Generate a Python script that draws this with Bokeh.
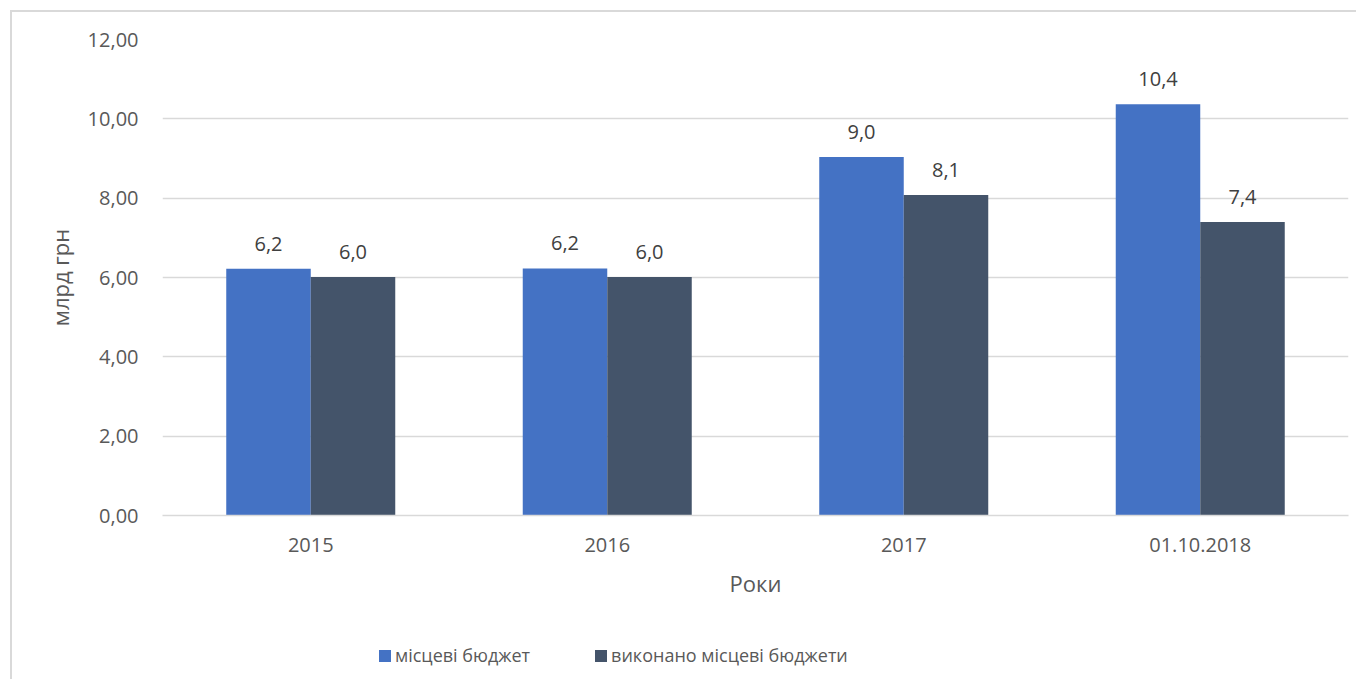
from bokeh.plotting import figure
from bokeh.layouts import column
from bokeh.models import FactorRange, Range1d, FixedTicker, Legend, LegendItem, ColumnDataSource
from bokeh.transform import dodge
from bokeh.core.properties import value
from bokeh.embed import file_html
from bokeh.resources import INLINE

# ---- data ----
categories = ["2015", "2016", "2017", "01.10.2018"]
local_budget = [6.22, 6.23, 9.04, 10.37]
executed_budget = [6.01, 6.01, 8.08, 7.40]
series_names = ["місцеві бюджет", "виконано місцеві бюджети"]
y_ticks = [0, 2, 4, 6, 8, 10, 12]
y_tick_labels = ["0,00", "2,00", "4,00", "6,00", "8,00", "10,00", "12,00"]
x_title = "Роки"
y_title = "млрд грн"

BLUE = "#4472C4"
DARK = "#44546A"
GRID = "#d9d9d9"
TXT = "#595959"
LBL = "#404040"
FONT = "Open Sans"

def fmt(v):
    return f"{v:.1f}".replace(".", ",")

src = ColumnDataSource(dict(
    cat=categories,
    a=local_budget,
    b=executed_budget,
    a_lbl=[fmt(v) for v in local_budget],
    b_lbl=[fmt(v) for v in executed_budget],
))

W = 1344
H1 = 613
H2 = 54
p = figure(
    x_range=FactorRange(*categories),
    y_range=Range1d(0, 12),
    width=W, height=H1,
    output_backend="svg", toolbar_location=None,
    min_border_left=150, min_border_right=8,
    min_border_top=27, min_border_bottom=110,
)
p.outline_line_color = None
p.background_fill_color = "white"
p.border_fill_color = "white"

bw = 0.285
r1 = p.vbar(x=dodge("cat", -bw / 2, range=p.x_range), top="a", width=bw, bottom=0,
            source=src, fill_color=BLUE, line_color=None)
r2 = p.vbar(x=dodge("cat", bw / 2, range=p.x_range), top="b", width=bw, bottom=0,
            source=src, fill_color=DARK, line_color=None)

p.text(x=dodge("cat", -bw / 2, range=p.x_range), y="a", text="a_lbl", source=src,
       text_align="center", text_baseline="alphabetic", y_offset=-25,
       text_font=value(FONT), text_font_size="20px", text_color=LBL)
p.text(x=dodge("cat", bw / 2, range=p.x_range), y="b", text="b_lbl", source=src,
       text_align="center", text_baseline="alphabetic", y_offset=-25,
       text_font=value(FONT), text_font_size="20px", text_color=LBL)

# grid
p.xgrid.grid_line_color = None
p.ygrid.grid_line_color = GRID
p.ygrid.grid_line_width = 1.3
p.yaxis.ticker = FixedTicker(ticks=y_ticks)
p.yaxis.major_label_overrides = {t: l for t, l in zip(y_ticks, y_tick_labels)}

# axes
for ax in (p.xaxis[0], p.yaxis[0]):
    ax.major_tick_line_color = None
    ax.minor_tick_line_color = None
    ax.major_tick_out = 0
    ax.major_tick_in = 0
    ax.major_label_text_font = FONT
    ax.major_label_text_font_size = "20px"
    ax.major_label_text_color = TXT
    ax.axis_label_text_font = FONT
    ax.axis_label_text_font_size = "22px"
    ax.axis_label_text_font_style = "normal"
    ax.axis_label_text_color = TXT

p.yaxis.axis_line_color = None
p.yaxis.major_label_standoff = 24
p.yaxis.axis_label = y_title
p.yaxis.axis_label_standoff = 10

p.xaxis.axis_line_color = GRID
p.xaxis.axis_line_width = 1.3
p.xaxis.major_label_standoff = 22
p.xaxis.axis_label = x_title
p.xaxis.axis_label_standoff = 13

# legend strip (separate figure below the chart; its bars fall outside its view)
q = figure(width=W, height=H2, output_backend="svg", toolbar_location=None,
           x_axis_location=None, y_axis_location=None,
           x_range=FactorRange(*categories), y_range=Range1d(100, 101),
           min_border=0)
q.outline_line_color = None
q.xgrid.grid_line_color = None
q.ygrid.grid_line_color = None
q.border_fill_color = "white"
lr1 = q.vbar(x="cat", top="a", width=bw, bottom=0, source=src,
             fill_color=BLUE, line_color=None)
lr2 = q.vbar(x="cat", top="b", width=bw, bottom=0, source=src,
             fill_color=DARK, line_color=None)

legend = Legend(
    items=[LegendItem(label=series_names[0], renderers=[lr1]),
           LegendItem(label=series_names[1], renderers=[lr2])],
    orientation="horizontal",
    location=(215, 12),
    glyph_width=15, glyph_height=15, label_standoff=3, spacing=63,
    padding=0, margin=0,
    border_line_color=None, background_fill_alpha=0,
    label_text_font=FONT, label_text_font_size="18px", label_text_color=TXT,
)
q.add_layout(legend)

layout = column(p, q, spacing=0)
layout.styles = {"margin-left": "10px", "margin-top": "10px",
                 "border-left": "2px solid #d9d9d9", "border-top": "2px solid #d9d9d9"}

open("out.html", "w").write(file_html(layout, INLINE))
